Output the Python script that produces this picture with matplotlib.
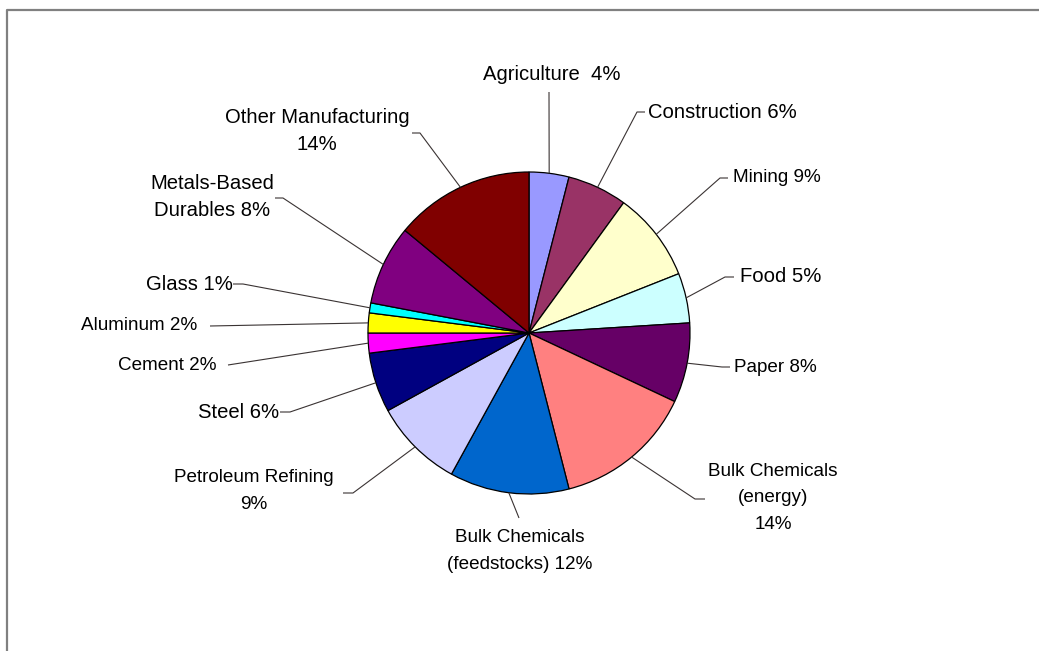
import matplotlib
matplotlib.use("Agg")
import matplotlib.pyplot as plt
from matplotlib import font_manager
from matplotlib.lines import Line2D
import numpy as np

# Energy use by sector, percent of total
sectors = ["Agriculture", "Construction", "Mining", "Food", "Paper",
           "Bulk Chemicals\n(energy)", "Bulk Chemicals\n(feedstocks)",
           "Petroleum Refining", "Steel", "Cement", "Aluminum", "Glass",
           "Metals-Based\nDurables", "Other Manufacturing"]
shares = [4, 6, 9, 5, 8, 14, 12, 9, 6, 2, 2, 1, 8, 14]
colors = ["#9999FF", "#993366", "#FFFFCC", "#CCFFFF", "#660066", "#FF8080",
          "#0066CC", "#CCCCFF", "#000080", "#FF00FF", "#FFFF00", "#00FFFF",
          "#800080", "#800000"]

W, H = 1039, 651
CX, CY, R = 529, 333, 161

# label placement in pixels: text x, text y, ha, separator, elbow, tail, narrow
layout = [
    (552, 74, "center", "  ", (549, 92), (549, 92), False),
    (648, 112, "left", " ", (637, 112), (645, 112), False),
    (733, 178, "left", " ", (720, 178), (728, 178), True),
    (740, 277, "left", " ", (725, 277), (734, 277), False),
    (734, 367, "left", " ", (722, 367), (730, 367), True),
    (773, 498, "center", "\n", (695, 499), (705, 499), True),
    (520, 551, "center", " ", (519, 518), (519, 518), True),
    (254, 491, "center", "\n", (353, 493), (343, 493), True),
    (279, 412, "right", " ", (290, 412), (280, 412), False),
    (217, 365, "right", " ", (228, 365), (228, 365), True),
    (197, 325, "right", " ", (210, 326), (210, 326), True),
    (233, 284, "right", " ", (243, 284), (233, 284), False),
    (212, 197, "center", " ", (283, 198), (275, 198), False),
    (317, 131, "center", "\n", (420, 133), (412, 133), False),
]

names = {f.name for f in font_manager.fontManager.ttflist}
narrow_font = "Liberation Sans Narrow" if "Liberation Sans Narrow" in names else None

fig = plt.figure(figsize=(W / 100, H / 100), dpi=100)
ax = fig.add_axes([0, 0, 1, 1])

# y axis runs downward, so start at -90 and go counterclockwise in data space
wedges, _ = ax.pie(shares, colors=colors, center=(CX, CY), radius=R,
                   startangle=-90, counterclock=True,
                   wedgeprops=dict(edgecolor="black", linewidth=0.9))

ax.set_xlim(0, W)
ax.set_ylim(H, 0)
ax.set_aspect("equal")
ax.axis("off")

for w, name, val, (tx, ty, ha, sep, elbow, tail, narrow) in zip(wedges, sectors, shares, layout):
    mid = np.deg2rad((w.theta1 + w.theta2) / 2)
    sx = CX + R * np.cos(mid)
    sy = CY + R * np.sin(mid)
    ax.plot([sx, elbow[0], tail[0]], [sy, elbow[1], tail[1]],
            color="#3a3333", lw=0.8, solid_capstyle="butt")

    txt = name + sep + f"{val}%"

    if narrow and narrow_font:
        fam, size, ls = [narrow_font, "Liberation Sans"], 15.5, 1.5
    elif narrow:
        fam, size, ls = ["Liberation Sans"], 13.6, 1.7
    else:
        fam, size, ls = ["Liberation Sans"], 14.6, 1.58
    ax.text(tx, ty, txt, ha=ha, va="center", multialignment="center",
            fontsize=size, family=fam, color="black", linespacing=ls)

# chart area border, only top and left edges fall inside the image
fig.add_artist(Line2D([7 / W, 7 / W, 1.0], [0.0, 1 - 10 / H, 1 - 10 / H],
                      transform=fig.transFigure, color="#808080", lw=1.6))

fig.savefig("out.png", dpi=100, facecolor="white")
